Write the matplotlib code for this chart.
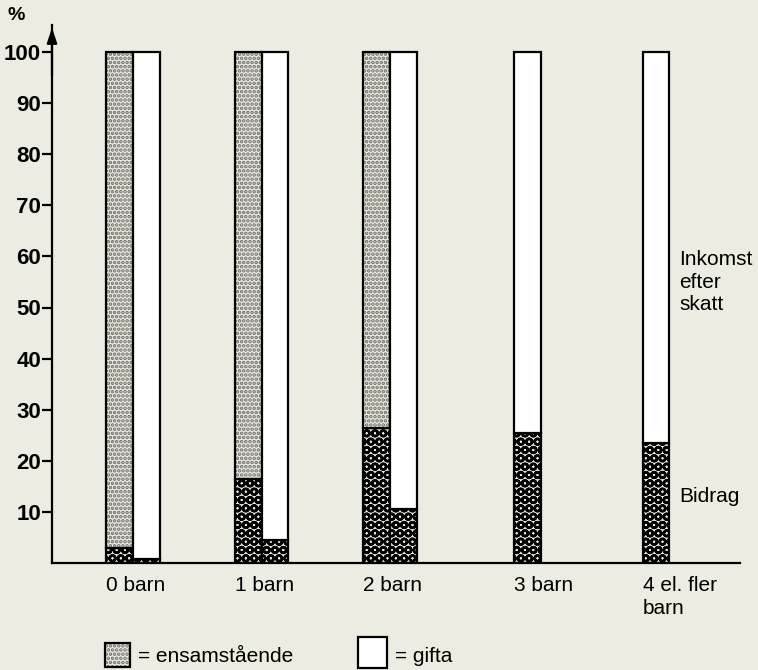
import numpy as np
import matplotlib
matplotlib.use("Agg")
import matplotlib.pyplot as plt

categories = ["0 barn", "1 barn", "2 barn", "3 barn", "4 el. fler\nbarn"]
# Bidrag share (%) of disposable income; rest up to 100 = inkomst efter skatt
bidrag_ensam = [3, 16.5, 26.5, None, None]
bidrag_gifta = [0.7, 4.5, 10.5, 25.5, 23.5]
total = 100

bg = "#edece2"
plt.rcParams["font.family"] = ["Liberation Sans", "DejaVu Sans"]
plt.rcParams["hatch.linewidth"] = 1.8

fig = plt.figure(figsize=(7.58, 6.7), dpi=100, facecolor=bg)
W, H = 758, 670
x0, x1, y0, ytop = 52, 740, 563, 25
ax = fig.add_axes([x0 / W, (H - y0) / H, (x1 - x0) / W, (y0 - ytop) / H])
ax.set_facecolor(bg)

px = 128.5
ax.set_xlim((x0 - 133) / px, (x1 - 133) / px)
ax.set_ylim(0, (y0 - ytop) / 5.11)


def light_bar(x, h, bottom):
    # light dotted fill drawn in grey, outline in black on top
    ax.bar(x, h, w, bottom=bottom, color=bg, edgecolor="#6a6a66", hatch="....", lw=0)
    ax.bar(x, h, w, bottom=bottom, fill=False, edgecolor="black", lw=1.6)


w = 0.21
xs = np.arange(len(categories))
for i in xs:
    be = bidrag_ensam[i]
    bg_ = bidrag_gifta[i]
    if be is not None:
        ax.bar(i - w / 2, be, w, color=bg, edgecolor="black", hatch="OO", lw=1.6)
        light_bar(i - w / 2, total - be, be)
        xg = i + w / 2
    else:
        xg = i + 0.07
    ax.bar(xg, bg_, w, color=bg, edgecolor="black", hatch="OO", lw=1.6)
    ax.bar(xg, total - bg_, w, bottom=bg_, color="white", edgecolor="black", lw=1.6)
    xl = i - w if be is not None else xg - w / 2
    ax.text(xl, -0.025, categories[i], transform=ax.get_xaxis_transform(),
            ha="left", va="top", fontsize=15, linespacing=1.25)

for s in ["top", "right"]:
    ax.spines[s].set_visible(False)
ax.spines["left"].set_linewidth(1.6)
ax.spines["bottom"].set_linewidth(1.6)
ax.set_xticks([])
ax.set_yticks(np.arange(10, 101, 10))
ax.tick_params(axis="y", length=7, width=1.6, labelsize=16, pad=1)
for t in ax.get_yticklabels():
    t.set_fontweight("bold")
ax.annotate("", xy=(0, 1.0), xytext=(0, 0.9), xycoords="axes fraction",
            arrowprops=dict(arrowstyle="-|>,head_width=0.3,head_length=0.9",
                            color="black", lw=1.6))
fig.text(8 / W, 1 - 16 / H, "%", fontsize=14, fontweight="bold", va="center")

fig.text(679 / W, 1 - 282 / H, "Inkomst\nefter\nskatt", fontsize=15,
         ha="left", va="center", linespacing=1.25)
fig.text(679 / W, 1 - 497 / H, "Bidrag", fontsize=15, ha="left", va="center")

# legend
lax = fig.add_axes([0, 0, 1, 1], facecolor="none")
lax.set_xlim(0, W)
lax.set_ylim(H, 0)
lax.axis("off")
lax.add_patch(plt.Rectangle((105, 643), 25, 24, facecolor=bg, edgecolor="#6a6a66",
                            hatch="....", lw=0))
lax.add_patch(plt.Rectangle((105, 643), 25, 24, fill=False, edgecolor="black", lw=1.6))
lax.text(138, 656, "= ensamstående", fontsize=15, va="center")
lax.add_patch(plt.Rectangle((358, 637), 29, 31, facecolor="white", edgecolor="black",
                            lw=1.6))
lax.text(395, 656, "= gifta", fontsize=15, va="center")

fig.savefig("out.png", dpi=100, facecolor=bg)
